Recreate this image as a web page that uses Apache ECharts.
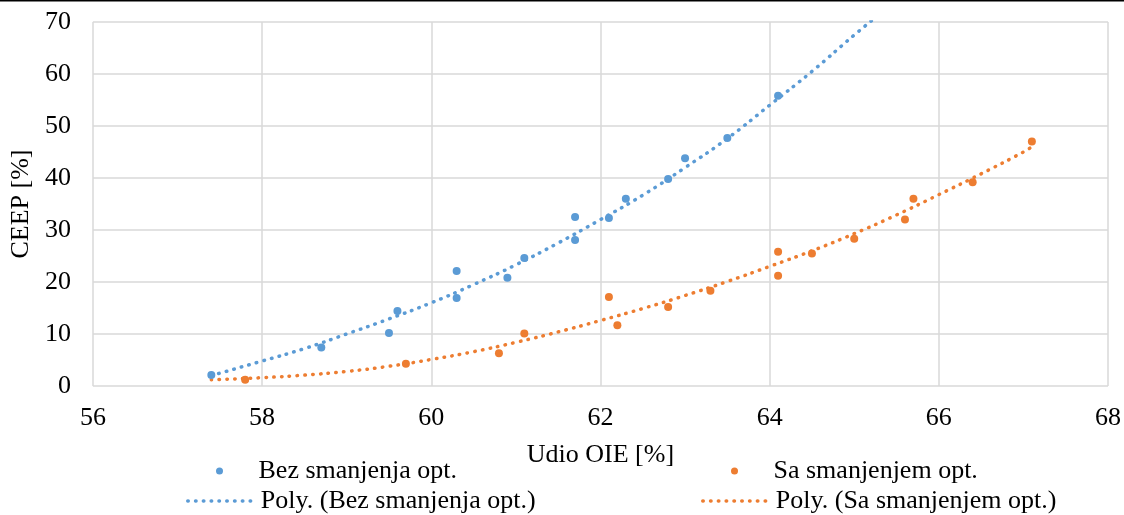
<!DOCTYPE html>
<html>
<head>
<meta charset="utf-8">
<script src="https://cdn.jsdelivr.net/npm/echarts@6/dist/echarts.min.js"></script>
<style>html,body{margin:0;padding:0;background:#fff}#c{width:1124px;height:515px}</style>
</head>
<body>
<div id="c"></div>
<script>
// Scatter data
const bezX = [57.4, 58.7, 59.5, 59.6, 60.3, 60.3, 60.9, 61.1, 61.7, 61.7, 62.1, 62.3, 62.8, 63.0, 63.5, 64.1];
const bezY = [2.1, 7.4, 10.2, 14.4, 22.1, 16.9, 20.8, 24.6, 32.5, 28.1, 32.3, 36.0, 39.8, 43.8, 47.7, 55.8];
const saX = [57.8, 59.7, 60.8, 61.1, 62.1, 62.2, 62.8, 63.3, 64.1, 64.1, 64.5, 65.0, 65.6, 65.7, 66.4, 67.1];
const saY = [1.2, 4.3, 6.3, 10.1, 17.1, 11.7, 15.2, 18.3, 25.8, 21.2, 25.5, 28.3, 32.0, 36.0, 39.2, 47.0];
// Trendlines
const bezTrendX = [57.4, 58, 58.5, 59, 59.5, 60, 60.5, 61, 61.5, 62, 62.5, 63, 63.5, 64, 64.5, 65, 65.3];
const bezTrendY = [2.0, 4.8, 7.2, 10.0, 12.9, 16.0, 19.5, 23.3, 27.5, 32.0, 36.7, 42.0, 47.6, 54.0, 60.5, 67.5, 71.5];
const saTrendX = [57.4, 58, 58.5, 59, 59.5, 60, 60.5, 61, 61.5, 62, 62.5, 63, 63.5, 64, 64.5, 65, 65.5, 66, 66.5, 67, 67.1];
const saTrendY = [1.2, 1.6, 2.1, 2.8, 3.8, 5.1, 6.6, 8.4, 10.4, 12.6, 14.9, 17.4, 20.1, 23.0, 26.0, 29.3, 32.9, 36.8, 40.8, 45.0, 46.0];

const names = ['Bez smanjenja opt.', 'Sa smanjenjem opt.', 'Poly. (Bez smanjenja opt.)', 'Poly. (Sa smanjenjem opt.)'];
const BLUE = '#5B9BD5', ORANGE = '#ED7D31';
const FONT = 'Liberation Serif';
const zip = (a, b) => a.map((v, i) => [v, b[i]]);

const chart = echarts.init(document.getElementById('c'), null, {renderer: 'canvas'});
const txt = {fontFamily: FONT, fontSize: 26, color: '#000'};
const dotted = (c) => ({color: c, width: 3.5, type: [0.5, 7.3], cap: 'round'});
const leg = (name, left, top, h, lineColor) => {
  const o = {
    data: [name], left: left, top: top, itemWidth: 68, itemHeight: h,
    textStyle: txt, padding: 0, selectedMode: false
  };
  if (lineColor) {
    o.itemStyle = {opacity: 0};
    o.lineStyle = Object.assign({opacity: 1}, dotted(lineColor));
  }
  return o;
};
chart.setOption({
  animation: false,
  graphic: [{type: 'rect', shape: {x: 0, y: 0, width: 1124, height: 1.5}, style: {fill: '#000'}}],
  grid: {left: 92, right: 14, top: 22, bottom: 129},
  xAxis: {
    type: 'value', min: 56, max: 68, interval: 2,
    name: 'Udio OIE [%]', nameLocation: 'middle', nameGap: 56, nameTextStyle: txt,
    axisLine: {show: false}, axisTick: {show: false},
    axisLabel: Object.assign({margin: 19}, txt),
    splitLine: {lineStyle: {color: '#D9D9D9', width: 1.5}}
  },
  yAxis: {
    type: 'value', min: 0, max: 70, interval: 10,
    name: 'CEEP [%]', nameLocation: 'middle', nameGap: 57, nameTextStyle: txt,
    axisLine: {show: false}, axisTick: {show: false},
    axisLabel: Object.assign({margin: 22}, txt),
    splitLine: {lineStyle: {color: '#D9D9D9', width: 1.5}}
  },
  legend: [
    leg(names[0], 216, 458, 7),
    leg(names[1], 731, 458, 7),
    leg(names[2], 186, 488, 6, BLUE),
    leg(names[3], 701, 488, 6, ORANGE)
  ],
  series: [
    {name: names[0], type: 'scatter', data: zip(bezX, bezY), symbolSize: 8, itemStyle: {color: BLUE, opacity: 1}, z: 3},
    {name: names[1], type: 'scatter', data: zip(saX, saY), symbolSize: 8, itemStyle: {color: ORANGE, opacity: 1}, z: 3},
    {name: names[2], type: 'line', data: zip(bezTrendX, bezTrendY), showSymbol: false, symbol: 'none', smooth: true, clip: true,
     lineStyle: dotted(BLUE), itemStyle: {color: BLUE}},
    {name: names[3], type: 'line', data: zip(saTrendX, saTrendY), showSymbol: false, symbol: 'none', smooth: true, clip: true,
     lineStyle: dotted(ORANGE), itemStyle: {color: ORANGE}}
  ]
});
</script>
</body>
</html>
